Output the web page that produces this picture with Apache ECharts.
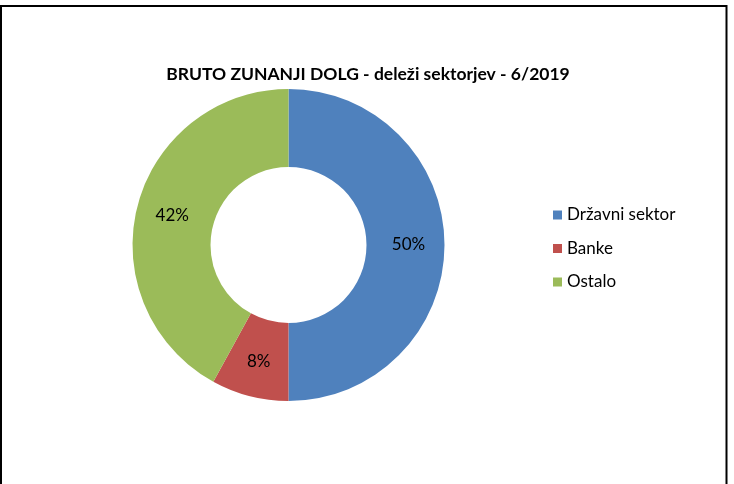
<!DOCTYPE html>
<html>
<head>
<meta charset="utf-8">
<script src="https://cdn.jsdelivr.net/npm/echarts@6/dist/echarts.min.js"></script>
<style>
  html, body { margin: 0; padding: 0; background: #fff; }
  #chart { width: 734px; height: 484px; }
</style>
</head>
<body>
<div id="chart"></div>
<script>
const titleText = 'BRUTO ZUNANJI DOLG - deleži sektorjev - 6/2019'
const sectors = ['Državni sektor', 'Banke', 'Ostalo']
const shares = [50, 8, 42]
const colors = ['#4F81BD', '#C0504D', '#9BBB59']

const font = 'Lato, "Open Sans", sans-serif'

const chart = echarts.init(document.getElementById('chart'))

chart.setOption({
  backgroundColor: '#fff',
  animation: false,
  color: colors,
  title: {
    text: titleText,
    left: 363,
    textAlign: 'center',
    top: 60,
    textStyle: { fontFamily: font, fontSize: 17.5, fontWeight: 'bold', color: '#000' },
  },
  legend: {
    orient: 'vertical',
    left: 548,
    top: 200,
    itemWidth: 9,
    itemHeight: 9,
    itemGap: 13.5,
    icon: 'rect',
    textStyle: { fontFamily: font, fontSize: 17, lineHeight: 20, color: '#000' },
    data: sectors,
  },
  graphic: [{
    type: 'rect',
    shape: { x: 1, y: 6, width: 725.5, height: 500 },
    style: { fill: 'none', stroke: '#000', lineWidth: 2 },
    silent: true,
  }],
  series: [{
    type: 'pie',
    center: [288.5, 245],
    radius: [78, 156],
    startAngle: 90,
    clockwise: true,
    label: {
      position: 'inside',
      formatter: '{c}%',
      fontFamily: font,
      fontSize: 17,
      color: '#000',
    },
    labelLine: { show: false },
    itemStyle: { borderWidth: 0 },
    emphasis: { disabled: true },
    data: sectors.map((name, i) => ({ name, value: shares[i] })),
  }],
})
</script>
</body>
</html>
